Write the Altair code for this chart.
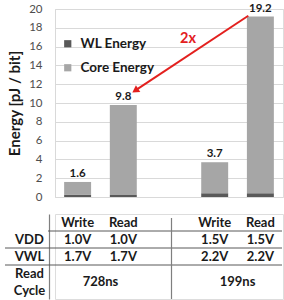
import altair as alt
import pandas as pd

# ---------------- data ----------------
slots = ["L-W", "L-R", "sep", "H-W", "H-R"]          # x slots (middle one empty)
bar_keys = ["L-W", "L-R", "H-W", "H-R"]
operations = ["Write", "Read", "Write", "Read"]
total_energy = [1.6, 9.8, 3.7, 19.2]
wl_energy = [0.22, 0.22, 0.4, 0.4]
parts = ["WL Energy", "Core Energy"]
part_colors = ["#595959", "#a6a6a6"]
y_ticks = [0, 2, 4, 6, 8, 10, 12, 14, 16, 18, 20]

vdd = ["1.0V", "1.0V", "1.5V", "1.5V"]
vwl = ["1.7V", "1.7V", "2.2V", "2.2V"]
cycle_keys = ["L-W", "H-W"]
read_cycle = ["728ns", "199ns"]
table_rows = ["hdr", "VDD", "VWL", "Read", "Cycle"]

arrow_from, arrow_to = "H-R", "L-R"
ratio_label = "2x"

# ---------------- tables ----------------
stack_rows = []
for k, t, w in zip(bar_keys, total_energy, wl_energy):
    stack_rows.append({"key": k, "part": parts[0], "value": w, "ord": 0})
    stack_rows.append({"key": k, "part": parts[1], "value": round(t - w, 3), "ord": 1})
stack_df = pd.DataFrame(stack_rows)
tot_df = pd.DataFrame({"key": bar_keys, "total": total_energy})
arrow_df = pd.DataFrame([{
    "from_key": arrow_from, "to_key": arrow_to, "mid_key": "sep",
    "from": total_energy[bar_keys.index(arrow_from)],
    "to": total_energy[bar_keys.index(arrow_to)],
    "label": ratio_label,
}])

cells = []
for k, o in zip(bar_keys, operations):
    cells.append({"key": k, "row": "hdr", "text": o})
for k, v in zip(bar_keys, vdd):
    cells.append({"key": k, "row": "VDD", "text": v})
for k, v in zip(bar_keys, vwl):
    cells.append({"key": k, "row": "VWL", "text": v})
cells_df = pd.DataFrame(cells)
cycle_df = pd.DataFrame({"key": cycle_keys, "row": ["Read"] * 2, "text": read_cycle})

FONT = "Lato"
W, H = 228, 188
TH = 85
RED = "#e3201e"
TXT = "#1a1a1a"

xscale = alt.Scale(domain=slots, paddingInner=0.41, paddingOuter=0.2)
yscale = alt.Scale(domain=[0, 20], nice=False)

# ---------------- top chart ----------------
bars = alt.Chart(stack_df).mark_bar().encode(
    x=alt.X("key:N", scale=xscale, axis=None),
    y=alt.Y("value:Q", stack="zero", scale=yscale,
            axis=alt.Axis(values=y_ticks, tickCount=11, labelOverlap=False,
                          title="Energy [pJ / bit]", grid=True,
                          gridColor="#d9d9d9", domainColor="#d9d9d9", ticks=False,
                          labelPadding=13, labelFontSize=11.5, labelFont=FONT,
                          labelColor="#4d4d4d", titleFont=FONT, titleFontSize=15,
                          titleFontWeight="bold", titlePadding=6, titleColor=TXT)),
    color=alt.Color("part:N", scale=alt.Scale(domain=parts, range=part_colors),
                    legend=alt.Legend(orient="none", legendX=6, legendY=28, title=None,
                                      symbolType="square", symbolSize=52, symbolStrokeWidth=0,
                                      labelFont=FONT, labelFontSize=13.5, labelFontWeight="bold",
                                      labelColor=TXT, labelOffset=6, rowPadding=9, padding=0)),
    order=alt.Order("ord:Q", sort="ascending"),
)

value_labels = alt.Chart(tot_df).mark_text(
    font=FONT, fontSize=11.5, fontWeight="bold", dy=-5, baseline="alphabetic", color=TXT
).encode(
    x=alt.X("key:N", scale=xscale, axis=None),
    y=alt.Y("total:Q", scale=yscale),
    text=alt.Text("total:Q", format=".1f"),
)

arrow_line = alt.Chart(arrow_df).mark_rule(
    color=RED, strokeWidth=2, xOffset=1.4, yOffset=-0.8, x2Offset=-0.6, y2Offset=-15
).encode(
    x=alt.X("from_key:N", scale=xscale, bandPosition=0, axis=None),
    x2=alt.X2("to_key", bandPosition=1),
    y=alt.Y("from:Q", scale=yscale),
    y2="to:Q",
)

arrow_head = alt.Chart(arrow_df).mark_point(
    shape="triangle", filled=True, size=64, angle=236.5, color=RED, opacity=1,
    xOffset=-0.6, yOffset=-15
).encode(
    x=alt.X("to_key:N", scale=xscale, bandPosition=1, axis=None),
    y=alt.Y("to:Q", scale=yscale),
)

ratio_text = alt.Chart(arrow_df).transform_calculate(
    mid="(datum.from + datum.to) / 2"
).mark_text(
    font=FONT, fontSize=14.5, fontWeight="bold", color=RED, dx=19, dy=-22, baseline="middle"
).encode(
    x=alt.X("mid_key:N", scale=xscale, axis=None),
    y=alt.Y("mid:Q", scale=yscale),
    text="label:N",
)

top = alt.layer(bars, value_labels, arrow_line, arrow_head, ratio_text).properties(width=W, height=H)

# ---------------- table ----------------
tscale = alt.Scale(domain=table_rows, paddingInner=0, paddingOuter=0)

cell_text = alt.Chart(cells_df).mark_text(
    font=FONT, fontSize=13, fontWeight="bold", color=TXT
).encode(
    x=alt.X("key:N", scale=xscale, axis=None),
    y=alt.Y("row:N", scale=tscale,
            axis=alt.Axis(title=None, labelExpr="datum.value == 'hdr' ? '' : datum.value",
                          domain=True, domainColor="#7f7f7f", domainWidth=1.2, offset=6,
                          ticks=False, labelAlign="center", labelPadding=20,
                          labelFont=FONT, labelFontSize=13, labelFontWeight="bold",
                          labelColor=TXT, grid=False)),
    text="text:N",
)

cycle_text = alt.Chart(cycle_df).mark_text(
    font=FONT, fontSize=13, fontWeight="bold", color=TXT, dx=22.85
).encode(
    x=alt.X("key:N", scale=xscale, axis=None),
    y=alt.Y("row:N", scale=tscale, bandPosition=1),
    text="text:N",
)

hdr_rule = alt.Chart(pd.DataFrame({"row": ["VDD"]})).mark_rule(color="#595959", strokeWidth=1).encode(
    y=alt.Y("row:N", scale=tscale, bandPosition=0),
    x=alt.value(-7), x2=alt.value(W - 1),
)
row_rules = alt.Chart(pd.DataFrame({"row": ["VWL", "Read"]})).mark_rule(color="#595959", strokeWidth=1).encode(
    y=alt.Y("row:N", scale=tscale, bandPosition=0),
    x=alt.value(-50), x2=alt.value(W - 1),
)
sep_rule = alt.Chart(pd.DataFrame({"key": ["sep"]})).mark_rule(
    color="#7f7f7f", strokeWidth=1.2, xOffset=2.5
).encode(
    x=alt.X("key:N", scale=xscale, axis=None),
    y=alt.value(4), y2=alt.value(TH),
)

table = alt.layer(hdr_rule, row_rules, sep_rule, cell_text, cycle_text).properties(width=W, height=TH)

chart = alt.vconcat(top, table, spacing=10).properties(
    padding={"left": 4, "top": 2, "right": 0, "bottom": 0}
).configure_view(stroke=None).configure(font=FONT)

chart.save("out.html", embed_options={"renderer": "svg", "actions": False})
